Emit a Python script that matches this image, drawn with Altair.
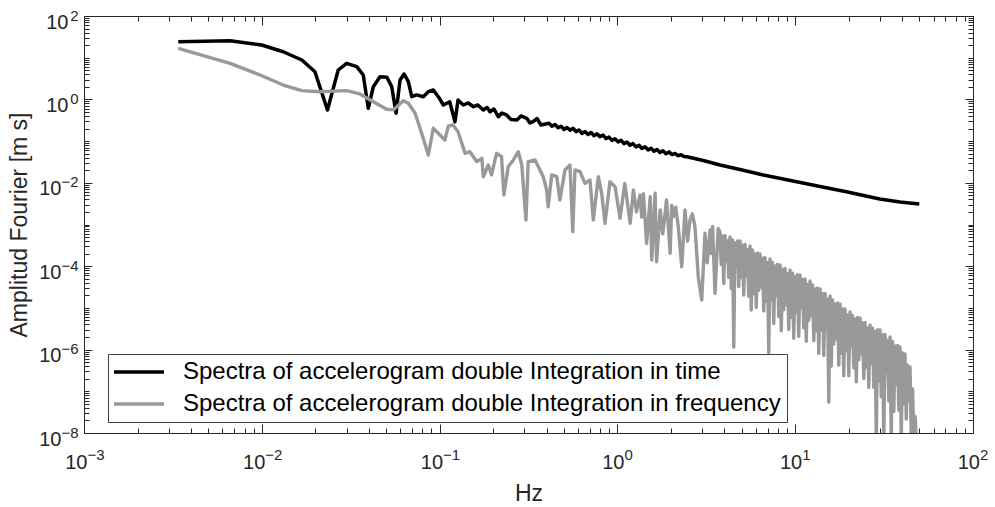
import altair as alt
import pandas as pd

# ---------------- data ----------------
series_names = [
    "Spectra of accelerogram double Integration in time",
    "Spectra of accelerogram double Integration in frequency",
]
series_colors = ["#000000", "#999999"]

time_hz = [
    0.00339, 0.00663, 0.00998, 0.0132, 0.0168, 0.0199, 0.0234, 0.0269, 0.0300, 0.0342,
    0.0372, 0.0397, 0.0424, 0.0462, 0.0505, 0.0538, 0.0569, 0.0599, 0.0631, 0.0667,
    0.0697, 0.0743, 0.081, 0.0864, 0.0922, 0.0984, 0.105, 0.114, 0.122, 0.127,
    0.136, 0.145, 0.155, 0.164, 0.176, 0.185, 0.192, 0.202, 0.214, 0.224,
    0.238, 0.252, 0.272, 0.287, 0.309, 0.322, 0.336, 0.353, 0.372,
    0.412, 0.429, 0.446, 0.464, 0.482, 0.501, 0.521, 0.542, 0.563, 0.585,
    0.608, 0.632, 0.657, 0.684, 0.711, 0.739, 0.768, 0.798, 0.830, 0.863,
    0.897, 0.932, 0.969, 1.008, 1.048, 1.089, 1.132, 1.177, 1.224, 1.272,
    1.322, 1.375, 1.429, 1.486, 1.545, 1.606, 1.670, 1.736, 1.804, 1.876,
    1.950, 2.03, 2.11, 2.19, 2.28, 2.37, 2.46, 3.04, 3.78, 4.89,
    6.62, 10.2, 13.8, 19.4, 29.9, 38.8, 49.9,
]
time_amp = [
    24.2, 25.6, 20.2, 13.9, 8.8, 4.6, 0.557, 5.07, 7.33, 6.09,
    3.85, 0.611, 2.02, 3.5, 3.39, 2.02, 0.465, 2.92, 4.07, 2.66,
    1.16, 1.28, 1.16, 1.53, 1.68, 1.16, 0.734, 0.88, 0.29, 0.968,
    0.734, 0.82, 0.668, 0.734, 0.557, 0.64, 0.507, 0.589, 0.385, 0.472,
    0.423, 0.33, 0.321, 0.40, 0.352, 0.272, 0.292, 0.348, 0.243,
    0.268, 0.227, 0.250, 0.209, 0.227, 0.190, 0.212, 0.182, 0.203, 0.169,
    0.185, 0.153, 0.169, 0.144, 0.160, 0.135, 0.150, 0.127, 0.139, 0.115,
    0.125, 0.104, 0.114, 0.0957, 0.105, 0.0870, 0.0953, 0.0796, 0.0868, 0.0725,
    0.0798, 0.0667, 0.0735, 0.0615, 0.0677, 0.0569, 0.0630, 0.0532, 0.0589, 0.0498,
    0.0551, 0.0475, 0.0506, 0.0445, 0.0470, 0.0425, 0.0421, 0.0343, 0.0267, 0.0208,
    0.0154, 0.0106, 0.00815, 0.00612, 0.00409, 0.00347, 0.00310,
]

freq_hz = [
    0.00339, 0.00663, 0.00977, 0.0132, 0.0168, 0.0212, 0.0300, 0.0356, 0.0424, 0.0504,
    0.0549, 0.0625, 0.0667, 0.0728, 0.0793, 0.0864, 0.0922, 0.107, 0.112, 0.119,
    0.127, 0.139, 0.148, 0.162, 0.173, 0.176, 0.188, 0.196, 0.209, 0.223,
    0.230, 0.243, 0.260, 0.277, 0.290, 0.306, 0.315, 0.344, 0.383, 0.400,
    0.408, 0.427, 0.456, 0.475, 0.507, 0.541, 0.561, 0.577, 0.616, 0.657,
    0.701, 0.732, 0.781, 0.816, 0.852, 0.908, 0.970,
    1.035, 1.10, 1.18, 1.23, 1.28, 1.34, 1.37, 1.40, 1.46, 1.53,
    1.56, 1.63, 1.66, 1.74, 1.80, 1.89, 1.98, 2.02, 2.06, 2.13,
    2.20, 2.30, 2.40, 2.48, 2.56, 2.64, 2.73, 2.85, 2.98, 3.11,
    3.20, 3.32, 3.38, 3.43, 3.54, 3.69,
    3.776, 3.837, 3.900, 3.964, 4.029, 4.094, 4.161, 4.229, 4.298, 4.369,
    4.440, 4.512, 4.586, 4.661, 4.737, 4.814, 4.893, 4.972, 5.054, 5.136,
    5.220, 5.305, 5.392, 5.480, 5.569, 5.660, 5.752, 5.846, 5.941, 6.038,
    6.137, 6.237, 6.339, 6.442, 6.547, 6.654, 6.763, 6.873, 6.985, 7.100,
    7.215, 7.333, 7.453, 7.574, 7.698, 7.824, 7.951, 8.081, 8.213, 8.347,
    8.483, 8.622, 8.762, 8.905, 9.051, 9.198, 9.349, 9.501, 9.656, 9.814,
    9.977, 10.14, 10.30, 10.47, 10.64, 10.82, 11.00, 11.17, 11.36, 11.54,
    11.73, 11.92, 12.12, 12.31, 12.52, 12.72, 12.93, 13.14, 13.36, 13.57,
    13.80, 14.02, 14.25, 14.48, 14.72, 14.96, 15.20, 15.45, 15.70, 15.96,
    16.22, 16.48, 16.75, 17.02, 17.30, 17.59, 17.87, 18.16, 18.46, 18.76,
    19.07, 19.38, 19.70, 20.02, 20.34, 20.68, 21.01, 21.36, 21.71, 22.06,
    22.42, 22.79, 23.16, 23.53, 23.92, 24.31, 24.71, 25.11, 25.52, 25.93,
    26.36, 26.79, 27.23, 27.67, 28.12, 28.58, 29.05, 29.52, 30.00, 30.49,
    30.99, 31.49, 32.01, 32.53, 33.06, 33.60, 34.15, 34.70, 35.27, 35.85,
    36.43, 37.03, 37.63, 38.24, 38.87, 39.50, 40.15, 40.81, 41.47, 42.15,
    42.85, 43.55, 44.26, 44.98, 45.72, 46.46, 47.23, 48.00, 48.79,
]
freq_amp = [
    16.8, 7.34, 3.85, 2.21, 1.62, 1.53, 1.62, 1.35, 0.88, 0.58,
    0.56, 0.93, 0.805, 0.464, 0.154, 0.0464, 0.203, 0.106, 0.23, 0.243,
    0.168, 0.051, 0.0557, 0.0321, 0.0387, 0.0140, 0.0267, 0.0154, 0.051, 0.0423,
    0.0051, 0.0243, 0.0352, 0.0557, 0.0267, 0.00128, 0.0321, 0.0352, 0.0140, 0.0067,
    0.00267, 0.0154, 0.0140, 0.00387, 0.0203, 0.0267, 0.00067, 0.0203, 0.0185, 0.0097,
    0.0117, 0.00128, 0.0140, 0.0056, 0.00107, 0.0106, 0.00806,
    0.00141, 0.0097, 0.00107, 0.0067, 0.0020, 0.0051, 0.0015, 0.0055, 0.000354, 0.00465,
    0.000141, 0.0056, 0.000128, 0.00223, 0.0006, 0.00387, 0.000204, 0.0029, 0.00154, 0.0026,
    0.00089, 0.000097, 0.00223, 0.0004, 0.00128, 0.0018, 0.00089, 0.000056, 0.0000155, 0.000615,
    0.00012, 0.00074, 0.0002, 0.0009, 0.0000224, 0.000805,
    6.61e-4, 1.11e-4, 5.22e-4, 3.85e-5, 5.44e-4, 1.33e-4, 4.07e-4, 5.4e-5, 5.01e-4, 2.92e-5,
    4.25e-4, 1.15e-6, 3.6e-4, 9.4e-5, 4.02e-4, 3.27e-5, 4.02e-4, 5.33e-5, 3.18e-4, 2.04e-5,
    3.31e-4, 5.86e-5, 2.48e-4, 1.89e-5, 3.05e-4, 8.9e-6, 2.44e-4, 2.22e-5, 1.96e-4, 1.02e-5,
    2.07e-4, 2.63e-5, 1.96e-4, 3.15e-5, 1.55e-4, 8.5e-6, 1.61e-4, 1.44e-5, 1.21e-4, 8.3e-7,
    1.49e-4, 1.61e-5, 1.23e-4, 4.21e-6, 1.01e-4, 1.99e-5, 1.1e-4, 6.27e-6, 1.07e-4, 2.81e-6,
    8.45e-5, 9.1e-6, 8.81e-5, 1.2e-5, 6.59e-5, 3.04e-6, 8.11e-5, 5.93e-6, 6.78e-5, 1.88e-6,
    5.66e-5, 7.73e-6, 6.24e-5, 2.07e-6, 6.15e-5, 9.93e-6, 4.8e-5, 3.29e-6, 4.93e-5, 1.58e-6,
    3.64e-5, 5.06e-6, 4.42e-5, 6.43e-6, 3.54e-5, 1.64e-6, 2.84e-5, 2.81e-6, 3.0e-5, 8.1e-7,
    2.84e-5, 3.0e-6, 2.18e-5, 7.24e-7, 2.21e-5, 3.42e-6, 1.61e-5, 5.5e-8, 1.93e-5, 4.04e-7,
    1.55e-5, 1.37e-6, 1.24e-5, 1.8e-6, 1.31e-5, 4.25e-7, 1.24e-5, 8.18e-7, 9.4e-6, 2.38e-7,
    9.4e-6, 9.77e-7, 6.75e-6, 2.37e-7, 7.96e-6, 1.18e-6, 6.56e-6, 3.67e-7, 5.41e-6, 1.68e-7,
    5.87e-6, 5.71e-7, 5.73e-6, 7.64e-7, 4.41e-6, 2.03e-7, 4.47e-6, 3.83e-7, 3.25e-6, 1.24e-7,
    3.89e-6, 4.62e-7, 3.25e-6, 1.24e-7, 2.72e-6, 7e-9, 2.99e-6, 1.75e-7, 2.95e-6, 7.35e-8,
    2.27e-6, 7e-9, 2.3e-6, 2.77e-7, 1.67e-6, 5.87e-8, 2.0e-6, 7e-9, 1.56e-6, 3.27e-8,
    1.22e-6, 1.43e-7, 1.25e-6, 3.53e-8, 1.15e-6, 7e-9, 8.28e-7, 4.98e-8, 7.83e-7, 2.16e-8,
    4.27e-7, 5.89e-8, 3.82e-7, 7e-9, 1.14e-7, 7e-9, 2.5e-8, 7e-9, 8e-9,
]

x_major = [1e-3, 1e-2, 1e-1, 1e0, 1e1, 1e2]
y_labelled = [1e2, 1e0, 1e-2, 1e-4, 1e-6, 1e-8]

# tick positions (log-axis minor ticks)
x_minor = [m * 10.0 ** k for k in range(-3, 2) for m in range(2, 10)]
y_minor = [m * 10.0 ** k for k in range(-8, 2) for m in range(2, 10)] + [10.0 ** k for k in (1, -1, -3, -5, -7)]

# ---------------- chart ----------------
FONT = "Liberation Sans"
AX = "#262626"

df_time = pd.DataFrame({"hz": time_hz, "amp": time_amp, "series": series_names[0],
                        "idx": list(range(len(time_hz)))})
df_freq = pd.DataFrame({"hz": freq_hz, "amp": freq_amp, "series": series_names[1],
                        "idx": list(range(len(freq_hz)))})

xs = alt.Scale(type="log", domain=[1e-3, 100], nice=False)
ys = alt.Scale(type="log", domain=[1e-8, 100], nice=False)

EXP = "(round(log(datum.value)/LN10) < 0 ? '\u2212' : '') + abs(round(log(datum.value)/LN10))"


def cond(neg, pos):
    return {"condition": {"test": "datum.value < 1", "value": neg}, "value": pos}


common_lbl = dict(ticks=False, grid=False, labelFont=FONT, labelColor=AX,
                  labelFlush=False, labelOverlap=False, labelBound=False,
                  domainColor=AX, domainWidth=1)

x_base = alt.Axis(orient="bottom", values=x_major, labelExpr="'10'", labelAlign="right",
                  labelBaseline="alphabetic", labelPadding=35, labelOffset=cond(3, 6.5),
                  labelFontSize=20, title="Hz", titleFont=FONT, titleFontSize=23,
                  titleFontWeight="normal", titleColor=AX, titleY=67,
                  titleBaseline="alphabetic", domain=True, **common_lbl)
x_exp = alt.Axis(orient="bottom", values=x_major, labelExpr=EXP, labelAlign="left",
                 labelBaseline="alphabetic", labelPadding=26, labelOffset=cond(3, 6.5),
                 labelFontSize=15, title=None, domain=False, **common_lbl)
y_base = alt.Axis(orient="left", values=y_labelled, labelExpr="'10'", labelAlign="right",
                  labelBaseline="alphabetic", labelOffset=12, labelPadding=cond(23, 16),
                  labelFontSize=20, title="Amplitud Fourier [m s]", titleFont=FONT,
                  titleFontSize=23, titleFontWeight="normal", titleColor=AX, titleX=-58,
                  titleBaseline="alphabetic", titleAngle=270, domain=True, **common_lbl)
y_exp = alt.Axis(orient="left", values=y_labelled, labelExpr=EXP, labelAlign="right",
                 labelBaseline="alphabetic", labelOffset=4, labelPadding=6,
                 labelFontSize=15, title=None, domain=False, **common_lbl)


def tick_axis(orient, values, size):
    return alt.Axis(orient=orient, values=values, offset=-size, tickSize=size, labels=False,
                    domain=False, grid=False, title=None, tickColor=AX, tickWidth=1)


def frame_axis(orient, values):
    return alt.Axis(orient=orient, values=values, ticks=False, labels=False, domain=True,
                    domainColor=AX, domainWidth=1, grid=False, title=None)


legend = alt.Legend(title=None, orient="none", legendX=24, legendY=338, direction="vertical",
                    symbolType="M-2.5,0H2.5", symbolSize=400, symbolStrokeWidth=3.5,
                    symbolOffset=13, labelOffset=32, labelFont=FONT, labelFontSize=24,
                    labelColor="#000000", labelLimit=900, rowPadding=8, padding=6,
                    strokeColor="#404040", fillColor="#ffffff")

color = alt.Color("series:N", scale=alt.Scale(domain=series_names, range=series_colors),
                  legend=legend)

line_time = alt.Chart(df_time).mark_line(strokeWidth=3.5, strokeJoin="round", clip=True).encode(
    x=alt.X("hz:Q", scale=xs, axis=x_base),
    y=alt.Y("amp:Q", scale=ys, axis=y_base),
    color=color,
    order="idx:Q",
)
line_freq = alt.Chart(df_freq).mark_line(strokeWidth=3.4, strokeJoin="round", clip=True).encode(
    x=alt.X("hz:Q", scale=xs, axis=x_exp),
    y=alt.Y("amp:Q", scale=ys, axis=y_exp),
    color=color,
    order="idx:Q",
)


def ghost(xaxis, yaxis):
    return alt.Chart(df_time).mark_point(opacity=0).encode(
        x=alt.X("hz:Q", scale=xs, axis=xaxis),
        y=alt.Y("amp:Q", scale=ys, axis=yaxis),
    )


g1 = ghost(tick_axis("bottom", x_major, 9), tick_axis("left", y_labelled, 8))
g2 = ghost(tick_axis("bottom", x_minor, 5), tick_axis("left", y_minor, 5))
g3 = ghost(tick_axis("top", x_major, 9), tick_axis("right", y_labelled, 8))
g4 = ghost(tick_axis("top", x_minor, 5), tick_axis("right", y_minor, 5))
g5 = ghost(frame_axis("top", x_major), frame_axis("right", y_labelled))

chart = (
    alt.layer(line_time, line_freq, g1, g2, g3, g4, g5)
    .resolve_axis(x="independent", y="independent")
    .properties(
        width=889,
        height=417,
        padding={"left": 84, "top": 16, "right": 22, "bottom": 74},
        autosize=alt.AutoSizeParams(type="none"),
        background="#ffffff",
    )
    .configure_view(stroke="transparent", strokeWidth=0)
    .configure(font=FONT)
)

chart.save("out.html", embed_options={"renderer": "svg", "actions": False})
